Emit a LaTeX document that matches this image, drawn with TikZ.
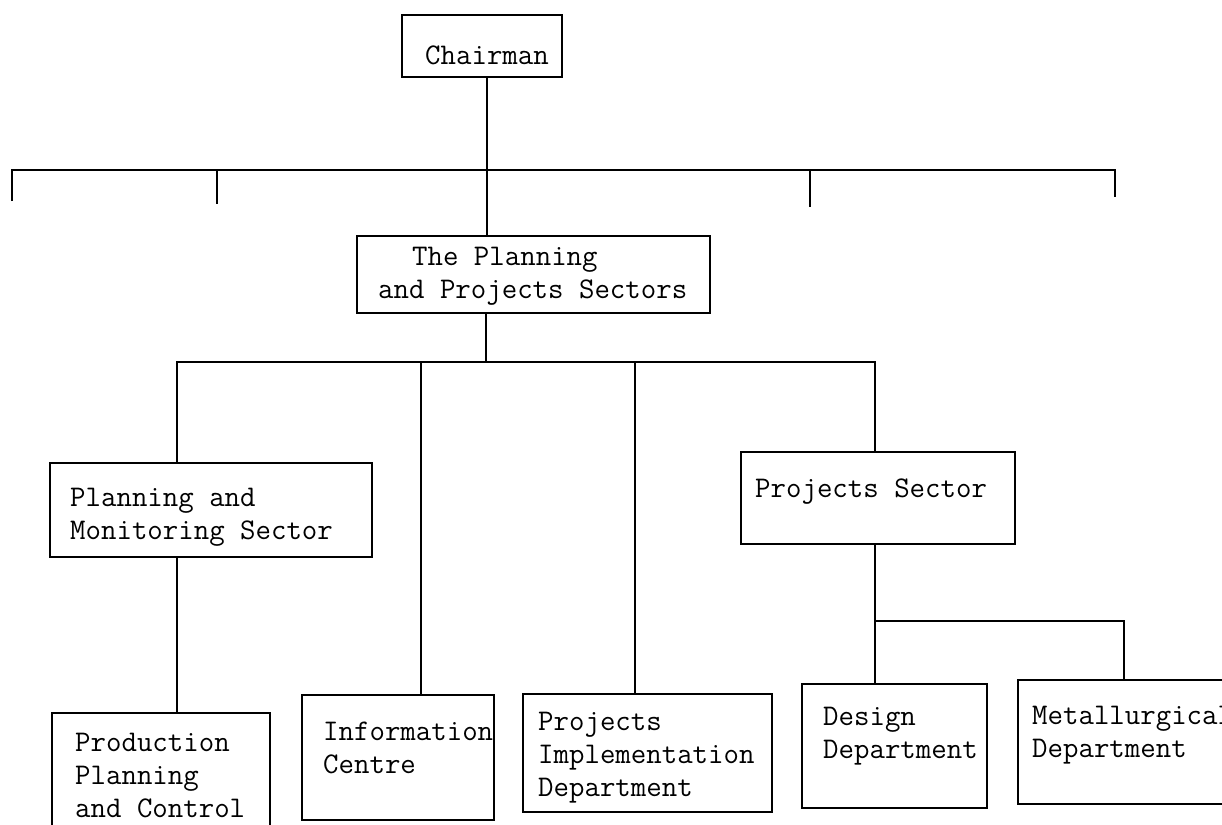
\documentclass[tikz,border=0pt]{standalone}
\newcommand\boxtext[1]{\begin{tabular}[t]{@{}l@{}}#1\end{tabular}}
\begin{document}
\begin{tikzpicture}[x=1pt,y=-1pt,
  box/.style={draw, rectangle, line width=1.8pt, inner sep=0pt},
  txt/.style={anchor=base west, inner sep=0pt,
    font=\ttfamily\fontsize{30}{33}\selectfont},
  link/.style={line width=1.6pt}]
\useasboundingbox (0,0) rectangle (1222,824);
\clip (0,0) rectangle (1222,824);

% boxes
\node[box, minimum width=160pt, minimum height=62pt]  (chair)  at (482,46) {};
\node[box, minimum width=353pt, minimum height=77pt]  (plan)   at (533.5,274.5) {};
\node[box, minimum width=322pt, minimum height=94pt]  (pms)    at (211,510) {};
\node[box, minimum width=274pt, minimum height=92pt]  (ps)     at (878,498) {};
\node[box, minimum width=218pt, minimum height=167pt] (prod)   at (161,796.5) {};
\node[box, minimum width=192pt, minimum height=125pt] (info)   at (398,757.5) {};
\node[box, minimum width=249pt, minimum height=118pt] (impl)   at (647.5,753) {};
\node[box, minimum width=185pt, minimum height=124pt] (design) at (894.5,746) {};
\node[box, minimum width=252pt, minimum height=124pt] (metal)  at (1144,742) {};

% box texts
\node[txt] (chairT)  at (425,65)  {\boxtext{Chairman}};
\node[txt] (planT)   at (378,265) {\boxtext{\hspace*{34pt}The Planning\\and Projects Sectors}};
\node[txt] (pmsT)    at (70,506)  {\boxtext{Planning and\\Monitoring Sector}};
\node[txt] (psT)     at (755,497) {\boxtext{Projects Sector}};
\node[txt] (prodT)   at (75,751)  {\boxtext{Production\\Planning\\and Control}};
\node[txt] (infoT)   at (323,740) {\boxtext{Information\\Centre}};
\node[txt] (implT)   at (538,730) {\boxtext{Projects\\Implementation\\Department}};
\node[txt] (designT) at (823,725) {\boxtext{Design\\Department}};
\node[txt] (metalT)  at (1032,724) {\boxtext{Metallurgical\\Department}};

% junctions and free ends of the connectors
\coordinate (b1) at (487,170);
\coordinate (d1) at (12,201);
\coordinate (d2) at (217,204);
\coordinate (d3) at (810,207);
\coordinate (d4) at (1115,197);
\coordinate (b2) at (486,362);
\coordinate (c1) at (177,362);
\coordinate (c2) at (421,362);
\coordinate (c3) at (635,362);
\coordinate (c4) at (875,362);
\coordinate (c5) at (875,621);
\coordinate (c6) at (1124,621);

% connectors
\draw[link] (chair.south -| b1) -- (plan.north -| b1);
\draw[link] (d1) -- (d1 |- b1) -- (d4 |- b1) -- (d4);
\draw[link] (d2 |- b1) -- (d2);
\draw[link] (d3 |- b1) -- (d3);
\draw[link] (plan.south -| b2) -- (b2);
\draw[link] (pms.north -| c1) -- (c1) -- (c4) -- (ps.north -| c4);
\draw[link] (c2) -- (info.north -| c2);
\draw[link] (c3) -- (impl.north -| c3);
\draw[link] (pms.south -| c1) -- (prod.north -| c1);
\draw[link] (ps.south -| c4) -- (c5) -- (c6) -- (metal.north -| c6);
\draw[link] (c5) -- (design.north -| c5);
\end{tikzpicture}
\end{document}
